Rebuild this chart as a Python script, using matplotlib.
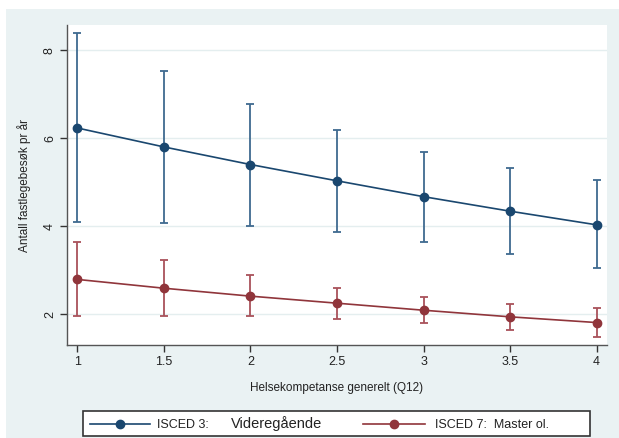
import matplotlib
matplotlib.use("Agg")
import matplotlib.pyplot as plt
from matplotlib.patches import Rectangle
from matplotlib.lines import Line2D

plt.rcParams['font.family'] = ['Liberation Sans', 'DejaVu Sans']

# --- data ---
x_vals = [1, 1.5, 2, 2.5, 3, 3.5, 4]

isced3_mean = [6.23, 5.80, 5.40, 5.03, 4.67, 4.34, 4.03]
isced3_lo = [4.10, 4.08, 4.00, 3.87, 3.65, 3.36, 3.04]
isced3_hi = [8.38, 7.52, 6.78, 6.18, 5.69, 5.33, 5.04]

isced7_mean = [2.79, 2.59, 2.41, 2.25, 2.09, 1.94, 1.81]
isced7_lo = [1.96, 1.96, 1.95, 1.90, 1.81, 1.65, 1.48]
isced7_hi = [3.63, 3.23, 2.89, 2.60, 2.38, 2.24, 2.13]

y_ticks = [2, 4, 6, 8]
x_ticks = [1, 1.5, 2, 2.5, 3, 3.5, 4]
x_ticklabels = ['1', '1.5', '2', '2.5', '3', '3.5', '4']

blue = '#1a476f'
blue_err = '#3f6a90'
red = '#90353b'
red_err = '#a9525b'
bg = '#eaf2f3'

W, H = 619, 438
fig = plt.figure(figsize=(W / 100, H / 100), dpi=100)
fig.patch.set_facecolor('white')
# Stata-style outer background (slight white margin top/left)
fig.patches.append(Rectangle((6 / W, 0), 1, 1 - 9 / H, transform=fig.transFigure,
                             facecolor=bg, edgecolor='none', zorder=-10))

ax = fig.add_axes([67 / W, 1 - 345 / H, 540 / W, 320 / H])
ax.set_facecolor('white')

for mean, lo, hi, c, ce in [(isced3_mean, isced3_lo, isced3_hi, blue, blue_err),
                            (isced7_mean, isced7_lo, isced7_hi, red, red_err)]:
    yerr = [[m - l for m, l in zip(mean, lo)], [h - m for m, h in zip(mean, hi)]]
    ax.errorbar(x_vals, mean, yerr=yerr, fmt='none', ecolor=ce, elinewidth=1.3,
                capsize=3.2, capthick=1.3, zorder=2)
    ax.plot(x_vals, mean, color=c, lw=1.2, marker='o', ms=6, zorder=3)

ax.set_xlim(0.94, 4.06)
ax.set_ylim(1.30, 8.57)
ax.set_yticks(y_ticks)
ax.set_yticklabels([str(t) for t in y_ticks], rotation=90, va='center', fontsize=9)
ax.set_xticks(x_ticks)
ax.set_xticklabels(x_ticklabels, fontsize=9)
ax.yaxis.grid(True, color='#e4eeef', lw=1.0)
ax.set_axisbelow(True)

for s in ['top', 'right']:
    ax.spines[s].set_visible(False)
for s in ['left', 'bottom']:
    ax.spines[s].set_color('#555555')
    ax.spines[s].set_linewidth(1.0)
ax.tick_params(direction='out', length=5, width=1.0, color='#333333',
               labelcolor='#222222', pad=3)

ax.set_xlabel('Helsekompetanse generelt (Q12)', fontsize=8.5, color='#222222', labelpad=10)
ax.set_ylabel('Antall fastlegebesøk pr år', fontsize=8.5, color='#222222', labelpad=9)

# legend drawn by hand to allow the mixed font sizes of the original
fig.patches.append(Rectangle((83 / W, 1 - 436 / H), (590 - 83) / W, 25 / H,
                             transform=fig.transFigure, facecolor='white',
                             edgecolor='#333333', lw=1.2, zorder=5))
ly = 1 - 423.5 / H
tb = 1 - 428 / H
fig.lines.append(Line2D([90 / W, 150 / W], [ly, ly], transform=fig.transFigure,
                        color=blue, lw=1.2, zorder=6))
fig.lines.append(Line2D([120 / W], [ly], transform=fig.transFigure, color=blue,
                        marker='o', ms=6, zorder=7))
fig.text(157 / W, tb, 'ISCED 3:', fontsize=9, va='baseline', color='#222222', zorder=7)
fig.text(231 / W, tb, 'Videregående', fontsize=10.5, va='baseline', color='#222222', zorder=7)
fig.lines.append(Line2D([363 / W, 425 / W], [ly, ly], transform=fig.transFigure,
                        color=red, lw=1.2, zorder=6))
fig.lines.append(Line2D([394 / W], [ly], transform=fig.transFigure, color=red,
                        marker='o', ms=6, zorder=7))
fig.text(435 / W, tb, 'ISCED 7:  Master ol.', fontsize=9, va='baseline', color='#222222', zorder=7)

fig.savefig('out.png', dpi=100, facecolor=fig.get_facecolor())
